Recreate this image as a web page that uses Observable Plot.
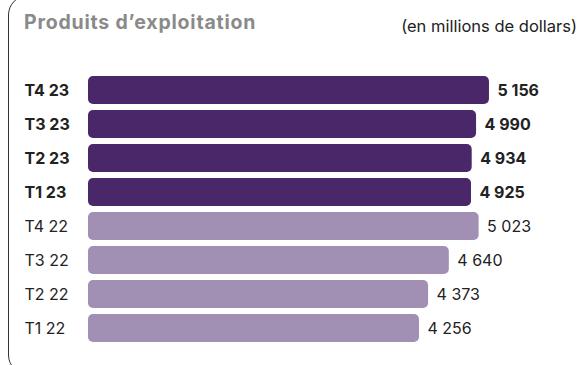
<!DOCTYPE html>
<html>
<head>
<meta charset="utf-8">
<script src="https://cdn.jsdelivr.net/npm/d3@7"></script>
<script src="https://cdn.jsdelivr.net/npm/@observablehq/plot@0.6"></script>
<style>
  html, body { margin: 0; padding: 0; background: #fff; }
  body { width: 577px; height: 365px; position: relative; overflow: hidden; font-family: Inter, "Liberation Sans", sans-serif; }
  #frame { position: absolute; left: 8px; top: -5px; width: 800px; height: 380px; border: 1px solid #333; border-radius: 20px; box-sizing: border-box; }
  #title { position: absolute; left: 24px; top: 13px; font-size: 19.5px; line-height: 1; font-weight: 700; color: #8a8a8a; letter-spacing: 0.8px; }
  #unit { position: absolute; right: 0px; top: 18px; font-size: 16.5px; line-height: 1; color: #222; }
  #chart { position: absolute; left: 0; top: 0; }
</style>
</head>
<body>
<div id="frame"></div>
<div id="title">Produits d’exploitation</div>
<div id="unit">(en millions de dollars)</div>
<div id="chart"></div>
<script>
const quarters = ["T4 23", "T3 23", "T2 23", "T1 23", "T4 22", "T3 22", "T2 22", "T1 22"];
const values = [5156, 4990, 4934, 4925, 5023, 4640, 4373, 4256];
const years = [23, 23, 23, 23, 22, 22, 22, 22];

const data = quarters.map((q, i) => ({quarter: q, value: values[i], year: years[i]}));
const fmt = d3.formatLocale({thousands: " ", grouping: [3], decimal: ","}).format(",d");
const dark = "#4a2768", light = "#a290b4", ink = "#222";
const cur = data.filter(d => d.year === 23), prev = data.filter(d => d.year === 22);

const chart = Plot.plot({
  width: 577,
  height: 365,
  marginLeft: 88,
  marginRight: 22.4,
  marginTop: 68,
  marginBottom: 14,
  x: {domain: [0, 6000], axis: null},
  y: {domain: quarters, axis: null, padding: 0.164},
  style: {fontFamily: "Inter, 'Liberation Sans', sans-serif", background: "transparent", overflow: "visible"},
  marks: [
    Plot.barX(data, {x: "value", y: "quarter", fill: d => d.year === 23 ? dark : light, rx: 5}),
    Plot.text(cur, {x: 0, y: "quarter", text: "quarter", dx: -64, textAnchor: "start", fontSize: 16, fontWeight: 700, fill: ink}),
    Plot.text(prev, {x: 0, y: "quarter", text: "quarter", dx: -64, textAnchor: "start", fontSize: 16, fontWeight: 400, fill: ink}),
    Plot.text(cur, {x: "value", y: "quarter", text: d => fmt(d.value), dx: 8, textAnchor: "start", fontSize: 16, fontWeight: 700, fill: ink}),
    Plot.text(prev, {x: "value", y: "quarter", text: d => fmt(d.value), dx: 8, textAnchor: "start", fontSize: 16, fontWeight: 400, fill: ink})
  ]
});
document.getElementById("chart").appendChild(chart);
</script>
</body>
</html>
